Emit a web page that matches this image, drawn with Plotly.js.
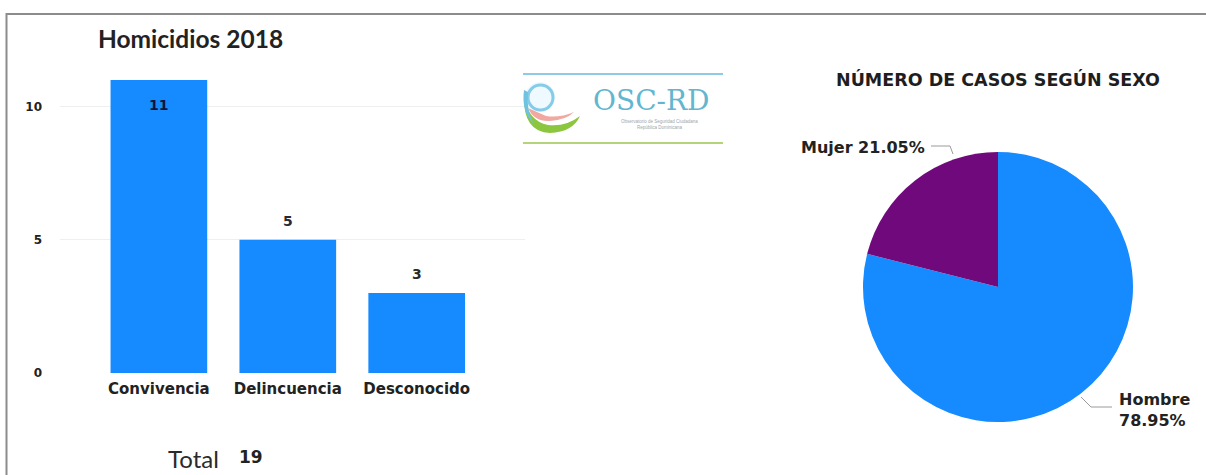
<!DOCTYPE html>
<html>
<head>
<meta charset="utf-8">
<script src="https://cdn.plot.ly/plotly-3.0.1.min.js"></script>
<style>
html,body{margin:0;padding:0;background:#fff;}
#chart{width:1206px;height:475px;}
</style>
</head>
<body>
<div id="chart"></div>
<script>
// ---- data ----
var barCategories = ["Convivencia", "Delincuencia", "Desconocido"];
var barValues = [11, 5, 3];
var labelInside = [true, false, false];
var totalLabel = "Total";
var totalValue = 19;
var yTickValues = [0, 5, 10];

var pieLabels = ["Hombre", "Mujer"];
var pieValues = [15, 4];
var pieColors = ["#168aff", "#700a7c"];
var pieLabelSeparators = ["<br>", " "];

var barTitle = "Homicidios 2018";
var pieTitle = "NÚMERO DE CASOS SEGÚN SEXO";

// ---- helpers (pixel -> paper) ----
var W = 1206, H = 475;
function px(x){ return x / W; }
function py(y){ return 1 - y / H; }
function P(x, y){ return px(x) + "," + py(y); }

var BOLD = "DejaVu Sans, Verdana, sans-serif";

var barTrace = {
  type: "bar",
  x: barCategories,
  y: barValues,
  marker: {color: "#168aff"},
  xaxis: "x", yaxis: "y",
  hoverinfo: "x+y",
  showlegend: false
};

var pieTrace = {
  type: "pie",
  labels: pieLabels,
  values: pieValues,
  sort: false,
  direction: "clockwise",
  rotation: 0,
  marker: {colors: pieColors, line: {color: "#ffffff", width: 0}},
  textinfo: "none",
  domain: {x: [px(863), px(1133)], y: [py(422), py(152)]},
  showlegend: false,
  hoverinfo: "label+percent"
};

// value labels on the bars, placed through the data axes
var valueAnnotations = barCategories.map(function(c, i){
  return {
    xref: "x", yref: "y", x: c, y: barValues[i],
    text: String(barValues[i]), showarrow: false,
    xanchor: "center",
    yanchor: labelInside[i] ? "top" : "bottom",
    yshift: labelInside[i] ? -15 : 9,
    font: {family: BOLD, size: 14, color: labelInside[i] ? "#14143a" : "#2a2a2a", weight: 700}
  };
});

// pie slice labels (text from the data)
var pieTotal = pieValues.reduce(function(a, b){ return a + b; }, 0);
var pieText = pieLabels.map(function(l, i){
  return l + pieLabelSeparators[i] + (pieValues[i] / pieTotal * 100).toFixed(2) + "%";
});
var pieLabelPlacement = [
  {x: px(1117), y: py(410), xanchor: "left", align: "left"},
  {x: px(927), y: py(147), xanchor: "right", align: "right"}
];
var pieAnnotations = pieText.map(function(t, i){
  var p = pieLabelPlacement[i];
  return {xref: "paper", yref: "paper", x: p.x, y: p.y, xanchor: p.xanchor, yanchor: "middle", align: p.align,
    showarrow: false, text: t,
    font: {family: BOLD, size: 16, color: "#222222", weight: 700}};
});

var layout = {
  width: W, height: H,
  margin: {l: 0, r: 0, t: 0, b: 0},
  paper_bgcolor: "#ffffff",
  plot_bgcolor: "rgba(0,0,0,0)",
  showlegend: false,
  bargap: 0.25,
  xaxis: {
    domain: [px(60), px(525)],
    range: [-0.767, 2.84],
    showgrid: false, zeroline: false, showline: false,
    ticks: "",
    ticklabelstandoff: 5,
    tickfont: {family: BOLD, size: 15, color: "#222222", weight: 700},
    fixedrange: true
  },
  yaxis: {
    domain: [py(373), py(53.4)],
    range: [0, 12],
    tickvals: yTickValues,
    showgrid: true, gridcolor: "#efefef", gridwidth: 1,
    zeroline: false, showline: false, ticks: "",
    ticklabelstandoff: 17,
    tickfont: {family: BOLD, size: 12, color: "#222222", weight: 700},
    fixedrange: true
  },
  shapes: [
    // frame (top and left)
    {type: "line", xref: "paper", yref: "paper", x0: px(6), x1: 1.01, y0: py(14), y1: py(14), line: {color: "#8c8c8c", width: 2}},
    {type: "line", xref: "paper", yref: "paper", x0: px(6.5), x1: px(6.5), y0: py(13), y1: -0.01, line: {color: "#8c8c8c", width: 2}},
    // logo lines
    {type: "line", xref: "paper", yref: "paper", x0: px(523), x1: px(723), y0: py(74), y1: py(74), line: {color: "#8fcbe6", width: 2}},
    {type: "line", xref: "paper", yref: "paper", x0: px(523), x1: px(723), y0: py(143), y1: py(143), line: {color: "#b3d47a", width: 2}},
    // logo emblem
    {type: "circle", xref: "paper", yref: "paper", x0: px(525), x1: px(555), y0: py(112), y1: py(82), line: {width: 0}, fillcolor: "#eefaff"},
    {type: "circle", xref: "paper", yref: "paper", x0: px(528), x1: px(553), y0: py(110), y1: py(85), line: {color: "#86cbe8", width: 3}, fillcolor: "rgba(0,0,0,0)"},
    {type: "path", xref: "paper", yref: "paper",
      path: "M " + P(524, 96) + " Q " + P(523, 132) + " " + P(550, 133) + " Q " + P(573, 132) + " " + P(580, 116) + " Q " + P(566, 127) + " " + P(548, 125) + " Q " + P(528, 121) + " " + P(524, 96) + " Z",
      line: {width: 0}, fillcolor: "#8cc63f"},
    {type: "path", xref: "paper", yref: "paper",
      path: "M " + P(528, 108) + " Q " + P(534, 122) + " " + P(550, 121) + " Q " + P(566, 120) + " " + P(574, 112) + " Q " + P(560, 118) + " " + P(546, 116) + " Z",
      line: {width: 0}, fillcolor: "#f0a8a0"},
    {type: "path", xref: "paper", yref: "paper",
      path: "M " + P(524, 90) + " Q " + P(521, 112) + " " + P(534, 124) + " Q " + P(526, 110) + " " + P(528, 92) + " Z",
      line: {width: 0}, fillcolor: "#6fc3e0"},
    // pie leader lines
    {type: "path", xref: "paper", yref: "paper",
      path: "M " + P(931, 146) + " L " + P(950, 146) + " L " + P(953, 154),
      line: {color: "#9a9a9a", width: 1}},
    {type: "path", xref: "paper", yref: "paper",
      path: "M " + P(1081, 397) + " L " + P(1091, 407) + " L " + P(1112, 407),
      line: {color: "#9a9a9a", width: 1}}
  ],
  annotations: valueAnnotations.concat(pieAnnotations).concat([
    {xref: "paper", yref: "paper", x: px(96), y: py(39), xanchor: "left", yanchor: "middle", showarrow: false,
      text: barTitle, font: {family: "Lato, Open Sans, sans-serif", size: 24.5, color: "#222222", weight: 700}},
    {xref: "paper", yref: "paper", x: px(998), y: py(80), xanchor: "center", yanchor: "middle", showarrow: false,
      text: pieTitle, font: {family: BOLD, size: 17.5, color: "#1e1e1e", weight: 700}},
    {xref: "paper", yref: "paper", x: px(166), y: py(458), xanchor: "left", yanchor: "middle", showarrow: false,
      text: totalLabel, font: {family: "Lato, Open Sans, sans-serif", size: 24, color: "#2a2a2a"}},
    {xref: "paper", yref: "paper", x: px(237), y: py(457), xanchor: "left", yanchor: "middle", showarrow: false,
      text: String(totalValue), font: {family: BOLD, size: 17, color: "#222222", weight: 700}},
    // logo text
    {xref: "paper", yref: "paper", x: px(651), y: py(100), xanchor: "center", yanchor: "middle", showarrow: false,
      text: "OSC-RD", font: {family: "DejaVu Serif, Liberation Serif, serif", size: 28, color: "#62b6cf"}},
    {xref: "paper", yref: "paper", x: px(659), y: py(125), xanchor: "center", yanchor: "middle", showarrow: false,
      text: "Observatorio de Seguridad Ciudadana<br>República Dominicana", font: {family: "Liberation Sans, Arial, sans-serif", size: 4.5, color: "#9aa8ad"}}
  ])
};

Plotly.newPlot("chart", [barTrace, pieTrace], layout, {displayModeBar: false, staticPlot: true});
</script>
</body>
</html>
